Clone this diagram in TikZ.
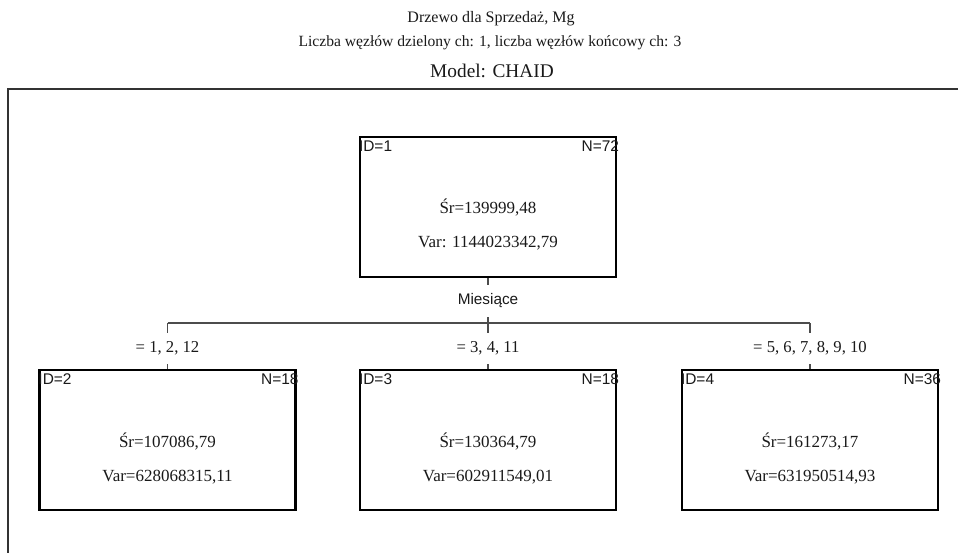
\documentclass[tikz,border=0pt]{standalone}
\usepackage{fontspec}
\setmainfont{Liberation Serif}
\setsansfont{Liberation Sans}
\usetikzlibrary{calc}

\tikzset{
  treebox/.style={draw=black, line width=1.9pt, minimum width=192pt, minimum height=105pt, inner sep=0pt},
  corner/.style={font=\sffamily\fontsize{11.6pt}{13pt}\selectfont, text=black!90, inner sep=0pt},
  stat/.style={font=\fontsize{12.75pt}{15pt}\selectfont, text=black!90, inner sep=0pt, anchor=base},
  cond/.style={font=\fontsize{12.5pt}{15pt}\selectfont, text=black!90, inner sep=0pt, minimum height=23.25pt},
  splitvar/.style={font=\sffamily\fontsize{11.5pt}{14pt}\selectfont, text=black!90, inner sep=0pt, minimum height=24pt},
  conn/.style={draw=black!70, line width=1.3pt},
  frame/.style={draw=black!80, line width=1.5pt},
  titletext/.style={text=black!90, inner sep=0pt, anchor=base},
}

\begin{document}
\begin{tikzpicture}[x=0.75pt, y=-0.75pt]
  \useasboundingbox (0,0) rectangle (958,553);

  % headings
  \node[titletext, font=\fontsize{12pt}{14pt}\selectfont] (title) at (491,22) {Drzewo dla Sprzedaż, Mg};
  \node[titletext, font=\fontsize{11.7pt}{14pt}\selectfont] (subtitle) at (490,46) {Liczba węzłów dzielony ch: 1, liczba węzłów końcowy ch: 3};
  \node[titletext, font=\fontsize{14.5pt}{17pt}\selectfont] (model) at (492,77) {Model: CHAID};

  % surrounding frame (open to the right and bottom)
  \coordinate (fr-a) at (958,89);
  \coordinate (fr-b) at (8,89);
  \coordinate (fr-c) at (8,553);
  \draw[frame] (fr-a) -- (fr-b) -- (fr-c);

  % root node
  \node[treebox] (root) at (488,207) {};
  \node[corner, anchor=north west] (root-id) at ($(root.north west)+(0,5)$) {ID=1};
  \node[corner, anchor=north east] (root-n) at ($(root.north east)+(2,5)$) {N=72};
  \node[stat] (root-mean) at ($(root.north)+(0,78)$) {Śr=139999,48};
  \node[stat] (root-var) at ($(root.north)+(0,112)$) {Var: 1144023342,79};

  % split variable and branch bar
  \node[splitvar] (split) at (488,301) {Miesiące};
  \coordinate (hub) at (488,323);
  \coordinate (bar-l) at (167.5,323);
  \coordinate (bar-r) at (810,323);

  % branch conditions
  \node[cond] (c2) at (167.5,348.5) {= 1, 2, 12};
  \node[cond] (c3) at (488,348.5) {= 3, 4, 11};
  \node[cond] (c4) at (810,348.5) {= 5, 6, 7, 8, 9, 10};

  % terminal nodes
  \node[treebox] (n2) at (167.5,440) {};
  \node[corner, anchor=north west] (n2-id) at ($(n2.north west)+(0,5)$) {ID=2};
  \node[corner, anchor=north east] (n2-n) at ($(n2.north east)+(2,5)$) {N=18};
  \node[stat] (n2-mean) at ($(n2.north)+(0,79)$) {Śr=107086,79};
  \node[stat] (n2-var) at ($(n2.north)+(0,113)$) {Var=628068315,11};

  \node[treebox] (n3) at (488,440) {};
  \node[corner, anchor=north west] (n3-id) at ($(n3.north west)+(0,5)$) {ID=3};
  \node[corner, anchor=north east] (n3-n) at ($(n3.north east)+(2,5)$) {N=18};
  \node[stat] (n3-mean) at ($(n3.north)+(0,79)$) {Śr=130364,79};
  \node[stat] (n3-var) at ($(n3.north)+(0,113)$) {Var=602911549,01};

  \node[treebox] (n4) at (810,440) {};
  \node[corner, anchor=north west] (n4-id) at ($(n4.north west)+(0,5)$) {ID=4};
  \node[corner, anchor=north east] (n4-n) at ($(n4.north east)+(2,5)$) {N=36};
  \node[stat] (n4-mean) at ($(n4.north)+(0,79)$) {Śr=161273,17};
  \node[stat] (n4-var) at ($(n4.north)+(0,113)$) {Var=631950514,93};

  % connectors
  \draw[conn] (root.south) -- (split.north);
  \draw[conn] (split.south) -- (hub);
  \draw[conn] (bar-l) -- (bar-r);
  \draw[conn] (bar-l) -- (c2.north);
  \draw[conn] (hub) -- (c3.north);
  \draw[conn] (bar-r) -- (c4.north);
  \draw[conn] (c2.south) -- (n2.north);
  \draw[conn] (c3.south) -- (n3.north);
  \draw[conn] (c4.south) -- (n4.north);
\end{tikzpicture}
\end{document}
